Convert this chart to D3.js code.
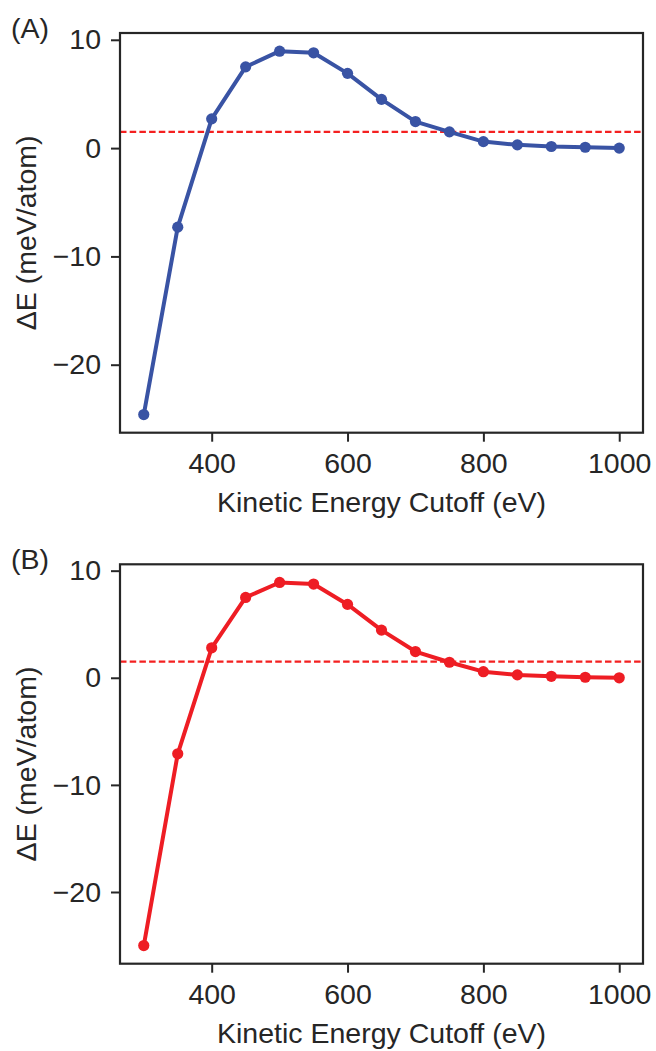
<!DOCTYPE html>
<html>
<head>
<meta charset="utf-8">
<script src="https://cdn.jsdelivr.net/npm/d3@7"></script>
<style>
  html, body { margin: 0; padding: 0; background: #fff; }
  svg { display: block; }
  text { font-family: "Liberation Sans", Arial, Helvetica, sans-serif; fill: #262626; }
</style>
</head>
<body>
<svg id="chart" width="656" height="1051"></svg>
<script>
// ---- data ----
const cutoffs = [300, 350, 400, 450, 500, 550, 600, 650, 700, 750, 800, 850, 900, 950, 1000];
const deltaE_A = [-24.6, -7.3, 2.7, 7.5, 8.95, 8.8, 6.9, 4.5, 2.45, 1.5, 0.6, 0.3, 0.15, 0.08, 0.0];
const deltaE_B = [-25.0, -7.1, 2.8, 7.5, 8.9, 8.75, 6.85, 4.45, 2.45, 1.45, 0.57, 0.27, 0.14, 0.05, 0.0];
const threshold = 1.5;
const xTicks = [400, 600, 800, 1000];
const yTicks = [-20, -10, 0, 10];
const panelLabels = ["(A)", "(B)"];
const xLabel = "Kinetic Energy Cutoff (eV)";
const yLabel = "ΔE (meV/atom)";

const svg = d3.select("#chart");
const FS = 28.5;
const ink = "#262626";

const panels = [
  { label: panelLabels[0], values: deltaE_A, color: "#3953a4", top: 33, bottom: 432.7 },
  { label: panelLabels[1], values: deltaE_B, color: "#ee1d24", top: 564.3, bottom: 963.7 }
];
const left = 120, right = 643;

function padDomain(arr) {
  const lo = d3.min(arr), hi = d3.max(arr), r = hi - lo;
  return [lo - 0.05 * r, hi + 0.05 * r];
}

panels.forEach(p => {
  const g = svg.append("g");
  const x = d3.scaleLinear().domain(padDomain(cutoffs)).range([left, right]);
  const y = d3.scaleLinear().domain(padDomain(p.values)).range([p.bottom, p.top]);

  // dashed threshold
  g.append("line")
    .attr("x1", left).attr("x2", right)
    .attr("y1", y(threshold)).attr("y2", y(threshold))
    .attr("stroke", "#f42020").attr("stroke-width", 2.2)
    .attr("stroke-dasharray", "6.5,3.2");

  // line
  const line = d3.line().x((d, i) => x(cutoffs[i])).y(d => y(d));
  g.append("path").datum(p.values)
    .attr("d", line).attr("fill", "none")
    .attr("stroke", p.color).attr("stroke-width", 4)
    .attr("stroke-linejoin", "round");

  g.selectAll("circle").data(p.values).enter().append("circle")
    .attr("cx", (d, i) => x(cutoffs[i])).attr("cy", d => y(d))
    .attr("r", 5.6).attr("fill", p.color);

  // axes
  const xAxis = d3.axisBottom(x).tickValues(xTicks).tickSize(9).tickPadding(11).tickFormat(d3.format("d"));
  const yAxis = d3.axisLeft(y).tickValues(yTicks).tickSize(9).tickPadding(10)
    .tickFormat(d => d < 0 ? "\u2212" + Math.abs(d) : String(d));

  const gx = g.append("g").attr("transform", `translate(0,${p.bottom})`).call(xAxis);
  const gy = g.append("g").attr("transform", `translate(${left},0)`).call(yAxis);
  [gx, gy].forEach(a => {
    a.select(".domain").remove();
    a.selectAll(".tick line").attr("stroke", ink).attr("stroke-width", 2);
    a.selectAll(".tick text").attr("font-size", FS).attr("fill", ink)
      .style("font-family", "'Liberation Sans', Arial, sans-serif");
  });

  // frame
  g.append("rect")
    .attr("x", left).attr("y", p.top)
    .attr("width", right - left).attr("height", p.bottom - p.top)
    .attr("fill", "none").attr("stroke", ink).attr("stroke-width", 2.2);

  // axis labels
  g.append("text")
    .attr("x", (left + right) / 2).attr("y", p.bottom + 79)
    .attr("text-anchor", "middle").attr("font-size", FS)
    .text(xLabel);

  g.append("text")
    .attr("transform", `translate(36,${(p.top + p.bottom) / 2}) rotate(-90)`)
    .attr("text-anchor", "middle").attr("font-size", FS)
    .text(yLabel);

  g.append("text")
    .attr("x", 11).attr("y", p.top + 5)
    .attr("font-size", FS)
    .text(p.label);
});
</script>
</body>
</html>
